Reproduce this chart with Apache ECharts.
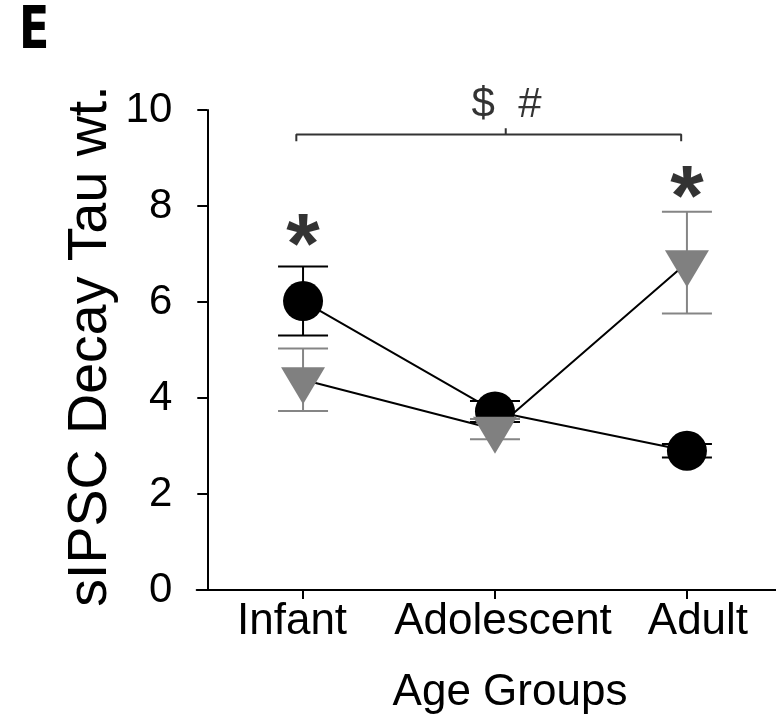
<!DOCTYPE html>
<html>
<head>
<meta charset="utf-8">
<title>sIPSC Decay Tau wt.</title>
<script src="https://cdn.jsdelivr.net/npm/echarts@6/dist/echarts.min.js"></script>
<style>
  html, body { margin: 0; padding: 0; background: #fff; }
  #chart { width: 776px; height: 722px; }
</style>
</head>
<body>
<div id="chart"></div>
<script>
// Age groups on the x axis (positions 0, 1, 2)
const categories = ['Infant', 'Adolescent', 'Adult'];
const categoryPos = [0, 1, 2];

// Black circles: mean and SEM per age group
const blackMean = [6.02, 3.72, 2.90];
const blackSem = [0.72, 0.22, 0.14];

// Grey triangles: mean and SEM per age group
const greyMean = [4.38, 3.35, 6.82];
const greySem = [0.65, 0.21, 1.06];

// y axis ticks
const yMin = 0, yMax = 10, yStep = 2;

// Significance bracket across the groups (x, y in data units)
const bracketX = [-0.035, -0.035, 1.056, 1.056, 1.056, 1.97, 1.97];
const bracketY = [9.35, 9.49, 9.49, 9.62, 9.49, 9.49, 9.35];

// Significance marks
const starX = [0, 2];
const starY = [7.1, 8.1];
const groupMarkText = '$  #';
const groupMarkPos = [1.06, 10.1];

const FONT = '"Liberation Sans", Arial, Helvetica, sans-serif';

// label nudges for the group names (rich style keys)
const labelKeys = ['l', 'm', 'r'];

function pairs(xs, ys) { return xs.map((x, i) => [x, ys[i]]); }

function errorData(mean, sem) {
  return categoryPos.map((x, i) => [x, mean[i] - sem[i], mean[i] + sem[i]]);
}

function errorBarRenderer(color) {
  return function (params, api) {
    const x = api.value(0);
    const lo = api.coord([x, api.value(1)]);
    const hi = api.coord([x, api.value(2)]);
    const half = 25;
    const style = { stroke: color, lineWidth: 2 };
    return {
      type: 'group',
      children: [
        { type: 'line', shape: { x1: hi[0], y1: hi[1], x2: lo[0], y2: lo[1] }, style },
        { type: 'line', shape: { x1: hi[0] - half, y1: hi[1], x2: hi[0] + half, y2: hi[1] }, style },
        { type: 'line', shape: { x1: lo[0] - half, y1: lo[1], x2: lo[0] + half, y2: lo[1] }, style }
      ]
    };
  };
}

const chart = echarts.init(document.getElementById('chart'), null, { renderer: 'canvas' });

const labelRich = {
  l: { fontSize: 44, fontFamily: FONT, color: '#000', padding: [0, 22, 0, 0] },
  m: { fontSize: 44, fontFamily: FONT, color: '#000', padding: [0, 0, 0, 16] },
  r: { fontSize: 44, fontFamily: FONT, color: '#000', padding: [0, 0, 0, 22] }
};

chart.setOption({
  backgroundColor: '#ffffff',
  animation: false,
  grid: { left: 196.7, right: 0, top: 110, bottom: 132, containLabel: false },
  xAxis: {
    type: 'value',
    min: -0.554,
    max: 2.464,
    splitLine: { show: false },
    axisLine: { show: true, onZero: false, lineStyle: { color: '#000', width: 2 } },
    axisTick: { show: true, customValues: categoryPos, length: 9, lineStyle: { color: '#000', width: 2 } },
    axisLabel: {
      show: true,
      customValues: categoryPos,
      formatter: v => {
        const i = Math.round(v);
        return '{' + labelKeys[i] + '|' + categories[i] + '}';
      },
      rich: labelRich,
      margin: 10,
      color: '#000',
      fontSize: 44,
      fontFamily: FONT
    }
  },
  yAxis: {
    type: 'value',
    min: yMin,
    max: yMax,
    interval: yStep,
    offset: -10.6,
    splitLine: { show: false },
    axisLine: { show: true, onZero: false, lineStyle: { color: '#000', width: 2 } },
    axisTick: { show: true, length: 10, lineStyle: { color: '#000', width: 2 } },
    axisLabel: { margin: 35, color: '#000', fontSize: 42, fontFamily: FONT }
  },
  series: [
    {
      type: 'custom',
      name: 'black-err',
      renderItem: errorBarRenderer('#000000'),
      encode: { x: 0, y: [1, 2] },
      data: errorData(blackMean, blackSem),
      clip: false
    },
    {
      type: 'line',
      name: 'black',
      data: pairs(categoryPos, blackMean),
      symbol: 'circle',
      symbolSize: 40,
      itemStyle: { color: '#000000' },
      lineStyle: { color: '#000000', width: 2 }
    },
    {
      type: 'custom',
      name: 'grey-err',
      renderItem: errorBarRenderer('#858585'),
      encode: { x: 0, y: [1, 2] },
      data: errorData(greyMean, greySem),
      clip: false
    },
    {
      type: 'line',
      name: 'grey',
      data: pairs(categoryPos, greyMean),
      symbol: 'triangle',
      symbolRotate: 180,
      symbolSize: [44, 37],
      symbolOffset: [0, 6],
      itemStyle: { color: '#808080' },
      lineStyle: { color: '#000000', width: 2 }
    },
    {
      type: 'line',
      name: 'bracket',
      data: pairs(bracketX, bracketY),
      symbol: 'none',
      lineStyle: { color: '#333333', width: 2 },
      clip: false
    },
    {
      type: 'scatter',
      name: 'stars',
      symbolSize: 0,
      clip: false,
      data: pairs(starX, starY).map(v => ({ name: '*', value: v })),
      label: {
        show: true, position: 'inside', formatter: '{b}',
        color: '#000', fontSize: 86, fontWeight: 'bold', fontFamily: FONT
      }
    },
    {
      type: 'scatter',
      name: 'group-marks',
      symbolSize: 0,
      clip: false,
      data: [{ name: groupMarkText, value: groupMarkPos }],
      label: {
        show: true, position: 'inside', formatter: '{b}',
        color: '#000', fontSize: 42, fontFamily: FONT
      }
    }
  ],
  graphic: [
    {
      type: 'text', x: 19, y: 4, scaleX: 0.85,
      style: {
        text: 'E', fill: '#000',
        font: 'bold 58px "Liberation Sans Narrow", "DejaVu Sans Condensed", "Liberation Sans", sans-serif'
      }
    },
    {
      type: 'text', x: 91, y: 346, rotation: Math.PI / 2,
      style: {
        text: 'sIPSC Decay Tau wt.', fill: '#000',
        fontSize: 55.5, fontFamily: FONT,
        textAlign: 'center', textVerticalAlign: 'middle'
      }
    },
    {
      type: 'text', x: 510, y: 671,
      style: {
        text: 'Age Groups', fill: '#000',
        fontSize: 44, fontFamily: FONT,
        textAlign: 'center', textVerticalAlign: 'top'
      }
    }
  ]
});
</script>
</body>
</html>
